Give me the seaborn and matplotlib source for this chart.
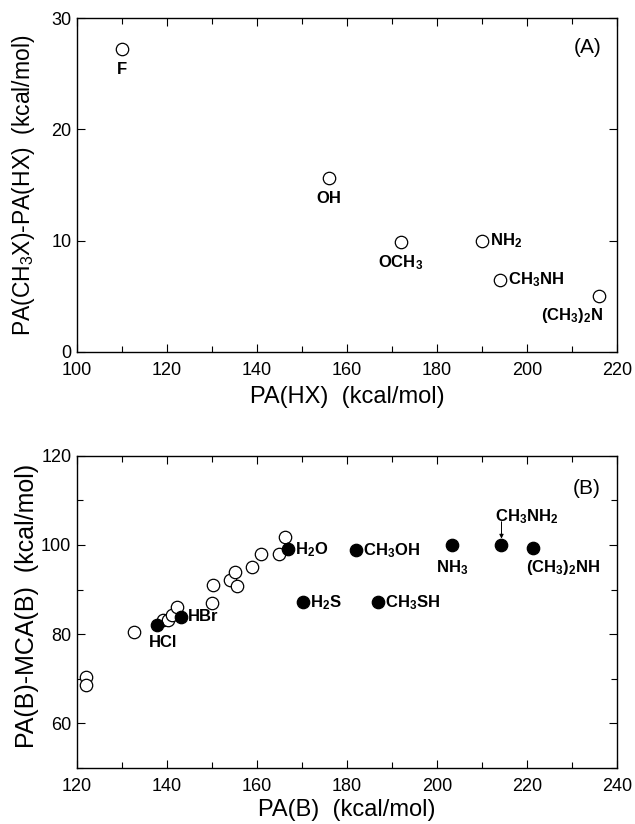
import matplotlib
matplotlib.use("Agg")
import matplotlib.pyplot as plt
from matplotlib.ticker import MultipleLocator
import seaborn as sns

# ---- panel A data ----
a_x = [110.0, 156.0, 172.0, 190.0, 194.0, 216.0]
a_y = [27.2, 15.6, 9.9, 10.0, 6.5, 5.0]
a_names = ["F", "OH", "OCH$_3$", "NH$_2$", "CH$_3$NH", "(CH$_3$)$_2$N"]

# ---- panel B data ----
b_open_x = [122.1, 122.1, 132.8, 139.2, 140.2, 141.1, 142.2, 150.0, 150.2,
            154.0, 155.1, 155.5, 158.9, 161.0, 164.8, 166.3]
b_open_y = [70.4, 68.6, 80.5, 83.1, 83.2, 84.3, 86.1, 86.9, 91.0,
            92.1, 93.9, 90.8, 95.1, 97.9, 97.9, 101.7]
b_fill_x = [137.8, 143.1, 166.9, 182.1, 170.2, 186.8, 203.4, 214.3, 221.2]
b_fill_y = [82.0, 83.9, 99.0, 98.8, 87.1, 87.1, 99.9, 99.9, 99.3]
b_names = ["HCl", "HBr", "H$_2$O", "CH$_3$OH", "H$_2$S", "CH$_3$SH",
           "NH$_3$", "CH$_3$NH$_2$", "(CH$_3$)$_2$NH"]

# label placement (offset in points, ha, va)
a_pos = [(0, -9, "center", "top"), (0, -9, "center", "top"),
         (0, -8, "center", "top"), (6, 0, "left", "center"),
         (6, 0, "left", "center"), (3, -7, "right", "top")]
b_pos = [(-6, -7, "left", "top"), (5, 0, "left", "center"),
         (5, 0, "left", "center"), (5, 0, "left", "center"),
         (5, 0, "left", "center"), (5, 0, "left", "center"),
         (0, -9, "center", "top"), (-5, 14, "left", "bottom"),
         (-5, -7, "left", "top")]

sns.set_style("ticks")
plt.rcParams["font.family"] = ["Liberation Sans", "DejaVu Sans"]
plt.rcParams["mathtext.default"] = "regular"
for k in ["text.color", "axes.labelcolor", "xtick.color", "ytick.color", "axes.edgecolor"]:
    plt.rcParams[k] = "black"

fig = plt.figure(figsize=(6.35, 8.24), dpi=100)
ax1 = fig.add_axes([0.121, 0.573, 0.851, 0.405])
ax2 = fig.add_axes([0.121, 0.068, 0.851, 0.379])

mk = dict(s=80, linewidth=0.9, edgecolor="black", legend=False)
sns.scatterplot(x=a_x, y=a_y, ax=ax1, facecolor="white", zorder=3, **mk)
sns.scatterplot(x=b_open_x, y=b_open_y, ax=ax2, facecolor="white", zorder=3, **mk)
sns.scatterplot(x=b_fill_x, y=b_fill_y, ax=ax2, color="black", zorder=4, **mk)

for x, y, t, (dx, dy, ha, va) in zip(a_x, a_y, a_names, a_pos):
    ax1.annotate(t, (x, y), xytext=(dx, dy), textcoords="offset points",
                 ha=ha, va=va, fontsize=12, fontweight="bold")
for x, y, t, (dx, dy, ha, va) in zip(b_fill_x, b_fill_y, b_names, b_pos):
    ax2.annotate(t, (x, y), xytext=(dx, dy), textcoords="offset points",
                 ha=ha, va=va, fontsize=12, fontweight="bold")
    if t == "CH$_3$NH$_2$":
        ax2.annotate("", xy=(x, y + 1.5), xytext=(x, y + 5.3),
                     arrowprops=dict(arrowstyle="-|>", lw=0.7, color="black",
                                     mutation_scale=6, shrinkA=0, shrinkB=0))

ax1.set_xlim(100, 220)
ax1.set_ylim(0, 30)
ax1.xaxis.set_major_locator(MultipleLocator(20))
ax1.xaxis.set_minor_locator(MultipleLocator(10))
ax1.yaxis.set_major_locator(MultipleLocator(10))
ax1.set_xlabel("PA(HX)  (kcal/mol)", fontsize=17, labelpad=5)
ax1.set_ylabel("PA(CH$_3$X)-PA(HX)  (kcal/mol)", fontsize=16.5)
ax1.yaxis.set_label_coords(-0.074, 0.5)
ax1.text(0.97, 0.94, "(A)", transform=ax1.transAxes, ha="right", va="top", fontsize=15)

ax2.set_xlim(120, 240)
ax2.set_ylim(50, 120)
ax2.xaxis.set_major_locator(MultipleLocator(20))
ax2.xaxis.set_minor_locator(MultipleLocator(10))
ax2.yaxis.set_minor_locator(MultipleLocator(10))
ax2.set_yticks([60, 80, 100, 120])
ax2.set_xlabel("PA(B)  (kcal/mol)", fontsize=17, labelpad=3)
ax2.set_ylabel("PA(B)-MCA(B)  (kcal/mol)", fontsize=18)
ax2.yaxis.set_label_coords(-0.07, 0.52)
ax2.text(0.97, 0.925, "(B)", transform=ax2.transAxes, ha="right", va="top", fontsize=15)

for ax in (ax1, ax2):
    for sp in ax.spines.values():
        sp.set_visible(True)
        sp.set_linewidth(1.0)
    ax.tick_params(which="both", direction="in", top=True, right=True,
                   labelsize=13, width=0.8)
    ax.tick_params(which="major", length=6)
    ax.tick_params(which="minor", length=4)
    ax.tick_params(axis="x", which="major", pad=7)
    ax.tick_params(axis="y", which="major", pad=4)

fig.savefig("out.png", dpi=100)
